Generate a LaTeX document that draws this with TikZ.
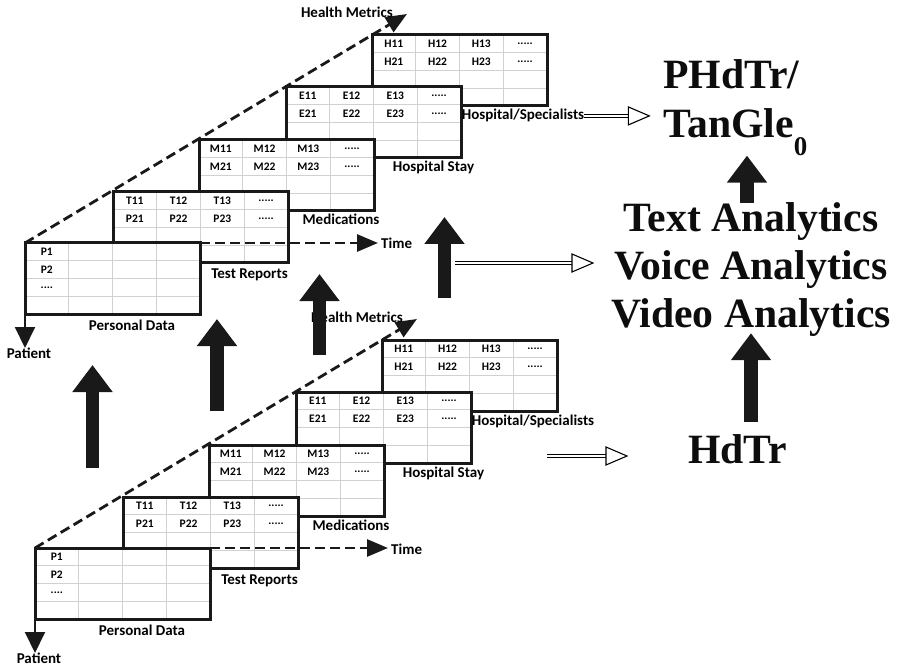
\documentclass[tikz,border=0pt]{standalone}
\usepackage{fontspec}
\setmainfont{Liberation Serif}
\newfontfamily\calibri{Carlito}
\usetikzlibrary{arrows.meta,calc,positioning}

\newcommand{\fivedots}{.....}
\newcommand{\fourdots}{....}

% one table of records: name, top left corner, cells as col/row/text
\newcommand{\recordtable}[3]{%
  \node[tablebox, anchor=north west] (#1) at (#2) {};
  \foreach \col in {1,2,3}
    \draw[cellgrid] ($(#1.north west)+(\col*43.75,0)$) -- ++(0,71);
  \foreach \row in {1,2,3}
    \draw[cellgrid] ($(#1.north west)+(0,\row*17.75)$) -- ++(175,0);
  \foreach \col/\row/\txt in {#3}
    \node[cell] at ($(#1.north west)+(\col*43.75-21.9,\row*17.75-8.9)$) {\txt};
  \draw[tableframe] (#1.north west) rectangle (#1.south east);
}

% the five tables of one patient record with its axes
\newcommand{\recordstack}[1]{%
  \recordtable{#1H}{372,35}{1/1/H11,2/1/H12,3/1/H13,4/1/\fivedots,1/2/H21,2/2/H22,3/2/H23,4/2/\fivedots}
  \recordtable{#1E}{286,87}{1/1/E11,2/1/E12,3/1/E13,4/1/\fivedots,1/2/E21,2/2/E22,3/2/E23,4/2/\fivedots}
  \recordtable{#1M}{199,140}{1/1/M11,2/1/M12,3/1/M13,4/1/\fivedots,1/2/M21,2/2/M22,3/2/M23,4/2/\fivedots}
  \recordtable{#1T}{113,192}{1/1/T11,2/1/T12,3/1/T13,4/1/\fivedots,1/2/P21,2/2/P22,3/2/P23,4/2/\fivedots}
  \recordtable{#1P}{25,243}{1/1/P1,1/2/P2,1/3/\fourdots}
  \node[tablelabel] (#1personal) at (132,330) {Personal Data};
  \node[tablelabel] (#1tests) at (249.5,279) {Test Reports};
  \node[tablelabel] (#1meds) at (341,225) {Medications};
  \node[tablelabel] (#1stay) at (433.5,172) {Hospital Stay};
  \node[tablelabel] (#1special) at (523,120) {Hospital/Specialists};
  % axes
  \coordinate (#1metricend) at (407,14);
  \coordinate (#1timeend) at (378,243);
  \coordinate (#1patientend) at (25,348);
  \draw[dashaxis] (#1P.north west) -- (#1metricend);
  \draw[dashaxis] (#1P.north east) -- (#1timeend);
  \draw[patientaxis] (#1P.south west) -- (#1patientend);
  \node[tablelabel, anchor=base east] (#1metrics) at (393,18) {Health Metrics};
  \node[tablelabel, anchor=base west] (#1time) at (381,249) {Time};
  \node[tablelabel] (#1patient) at (29,358) {Patient};
}

% double line with an open head
\newcommand{\hollowarrow}[2]{%
  \draw[line width=1.1pt, double, double distance=2.4pt] (#1) -- ($(#2)+(-21,0)$);
  \draw[line width=1.1pt, fill=white] ($(#2)+(-21,-9)$) -- (#2) -- ($(#2)+(-21,9)$) -- cycle;
}

\begin{document}
\begin{tikzpicture}[x=1pt, y=-1pt,
    tablebox/.style={fill=white, minimum width=175pt, minimum height=71pt, inner sep=0pt, outer sep=0pt},
    cellgrid/.style={draw=black!18, line width=1.4pt},
    tableframe/.style={draw=black!90, line width=3pt},
    cell/.style={font=\calibri\bfseries\fontsize{11.5}{12}\selectfont, inner sep=0pt},
    tablelabel/.style={font=\calibri\bfseries\fontsize{15}{16}\selectfont, inner sep=0pt, anchor=base},
    dashaxis/.style={draw=black!90, line width=2.8pt, dash pattern=on 10pt off 5pt, -{Triangle[length=21pt,width=17pt]}},
    patientaxis/.style={draw=black!90, line width=2pt, -{Triangle[length=21pt,width=20pt]}},
    bigarrow/.style={draw=black!90, line width=13.5pt, -{Triangle[length=27pt,width=38.5pt]}},
    bigtext/.style={font=\bfseries\fontsize{41.7}{49}\selectfont, inner sep=0pt, text=black!95}]
\useasboundingbox (0,0) rectangle (898,666);

\recordstack{a}
\begin{scope}[shift={(10,305)}]
  \recordstack{b}
\end{scope}

% arrows lifting the records
\foreach \n/\x/\ylow/\yhigh in {1/92.5/468/365, 2/217/411/319, 3/319.5/355/274, 4/444.5/298/217} {
  \coordinate (lift\n low) at (\x,\ylow);
  \coordinate (lift\n high) at (\x,\yhigh);
  \draw[bigarrow] (lift\n low) -- (lift\n high);
}

% right column
\node[bigtext, align=left, anchor=north west] (phdtr) at (663,59)
  {PHdTr/\\TanGle\raisebox{-18pt}{\fontsize{27}{27}\selectfont 0}};
\node[bigtext, align=center, font=\bfseries\fontsize{41.7}{48}\selectfont] (analytics) at (751,270)
  {Text Analytics\\Voice Analytics\\Video Analytics};
\node[bigtext, anchor=base] (hdtr) at (737.5,463) {HdTr};

\draw[bigarrow] ([xshift=-4pt]analytics.north) -- ([xshift=-4pt]analytics.north |- phdtr.south);
\draw[bigarrow, shorten <=12pt, shorten >=-4pt] (hdtr.north -| analytics.south) -- (analytics.south);

% feeding arrows
\coordinate[right=65pt of aspecial.east] (aimtop);
\coordinate (feedstart) at (455,263);
\coordinate (feedend) at (593,263);
\coordinate (histstart) at (547,456);
\coordinate (histend) at (627,456);
\hollowarrow{aspecial.east}{aimtop}
\hollowarrow{feedstart}{feedend}
\hollowarrow{histstart}{histend}
\end{tikzpicture}
\end{document}
